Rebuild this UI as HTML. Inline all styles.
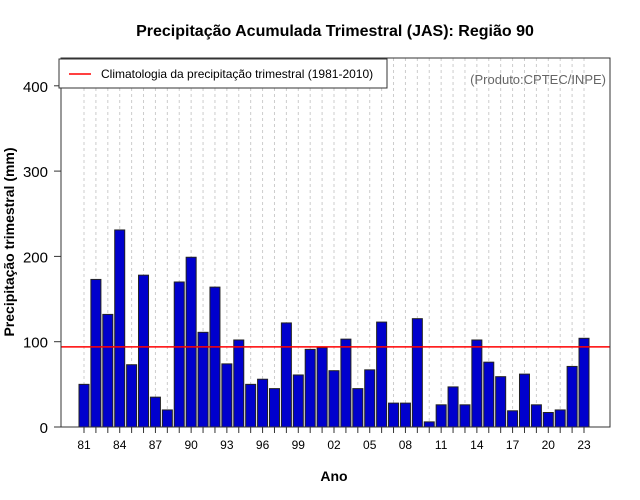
<!DOCTYPE html>
<html><head><meta charset="utf-8"><style>
body{margin:0;background:#fff}
svg{display:block;font-family:"Liberation Sans",sans-serif}
</style></head><body>
<svg id="chart" width="640" height="500">
<text x="335" y="36" text-anchor="middle" font-weight="bold" font-size="16">Precipitação Acumulada Trimestral (JAS): Região 90</text>
<text x="334" y="481" text-anchor="middle" font-weight="bold" font-size="14">Ano</text>
<text transform="translate(14,242) rotate(-90)" text-anchor="middle" font-weight="bold" font-size="14">Precipitação trimestral (mm)</text>
<g id="grid"></g><g id="bars"></g><g id="axes"></g>
<text x="606" y="84" text-anchor="end" font-size="13" fill="#666">(Produto:CPTEC/INPE)</text>
<g>
<rect x="59" y="59" width="328" height="29" fill="#fff" stroke="#333" stroke-width="1"/>
<line x1="69" y1="74" x2="91" y2="74" stroke="red" stroke-width="1.5"/>
<text x="101" y="78" font-size="12">Climatologia da precipitação trimestral (1981-2010)</text>
</g>
</svg>
<script>
const years=[81,82,83,84,85,86,87,88,89,90,91,92,93,94,95,96,97,98,99,0,1,2,3,4,5,6,7,8,9,10,11,12,13,14,15,16,17,18,19,20,21,22,23];
const values=[50,173,132,231,73,178,35,20,170,199,111,164,74,102,50,56,45,122,61,91,93,66,103,45,67,123,28,28,127,6,26,47,26,102,76,59,19,62,26,17,20,71,104];
const climatology=[94];
const yTicks=[0,100,200,300,400];
const ns="http://www.w3.org/2000/svg";
const L=61,R=610,T=58,B=427;
const x=i=>84+i*11.905;
const y=v=>B-v*0.853;
function mk(tag,attrs,parent){const e=document.createElementNS(ns,tag);for(const k in attrs)e.setAttribute(k,attrs[k]);document.getElementById(parent).appendChild(e);return e;}
years.forEach((yr,i)=>{
 const g=mk('line',{x1:x(i),x2:x(i),y1:T,y2:B,stroke:'#ccc','stroke-dasharray':'3,3','stroke-width':1},'grid');
 
 
 const b=mk('rect',{x:x(i)-5,y:y(values[i]),width:10,height:B-y(values[i]),fill:'#0000cd',stroke:'#222','stroke-width':1},'bars');
 
 
 const t=mk('line',{x1:x(i),x2:x(i),y1:B,y2:B+6,stroke:'#333'},'axes');
 
 
 if(i%3===0){const l=mk('text',{x:x(i),y:B+22,'text-anchor':'middle','font-size':12},'axes');l.textContent=String(yr).padStart(2,'0');
 
 }
});
const cl=mk('line',{x1:L,x2:R,y1:y(climatology[0]),y2:y(climatology[0]),stroke:'red','stroke-width':1.5},'bars');


yTicks.forEach(v=>{
 const t=mk('line',{x1:L-7,x2:L,y1:y(v),y2:y(v),stroke:'#333'},'axes');
 
 
 const l=mk('text',{x:L-13,y:y(v)+6,'text-anchor':'end','font-size':15},'axes');l.textContent=v;
 
 
});
const box=mk('rect',{x:L,y:T,width:R-L,height:B-T,fill:'none',stroke:'#333','stroke-width':1},'axes');


</script>
</body></html>
